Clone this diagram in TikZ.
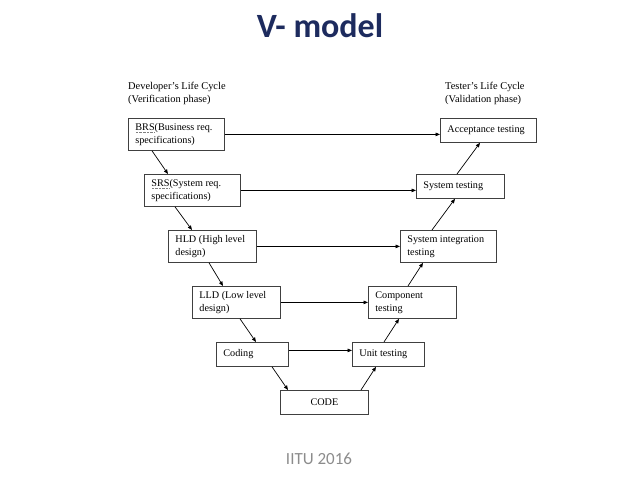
\documentclass[tikz,border=0pt]{standalone}
\usepackage{fontspec}
\setmainfont{Liberation Serif}
\newfontfamily\slidefont{Carlito}
\usetikzlibrary{arrows.meta,calc}
\definecolor{titleblue}{HTML}{1D2B5E}
\definecolor{footgray}{HTML}{8C8C8C}
\newsavebox{\spellbox}
\newcommand{\spellmark}[1]{\sbox{\spellbox}{#1}\rlap{\color{gray}\raisebox{-2pt}{\hbox to \wd\spellbox{\xleaders\hbox to 1.3pt{\hss\vrule width 0.6pt height 0.6pt depth 0pt\hss}\hfill}}}#1}
\tikzset{
  stage/.style={draw=black!75, line width=0.8pt, anchor=north west, inner xsep=7pt, inner ysep=0pt, align=flush left, font=\fontsize{10.2}{12.7}\selectfont},
  stageL/.style={stage, text width=82pt, minimum height=32pt},
  stageM/.style={stage, text width=74pt, minimum height=32pt},
  stageLS/.style={stage, text width=82pt, minimum height=24pt},
  stageMS/.style={stage, text width=74pt, minimum height=24pt},
  stageS/.style={stage, text width=58pt, minimum height=24pt},
  head/.style={anchor=west, inner sep=0pt, align=left, font=\fontsize{10.4}{12.7}\selectfont},
  flow/.style={-{Triangle[length=4.5pt,width=3.6pt]}, line width=0.7pt},
}
\begin{document}
\begin{tikzpicture}[x=1pt,y=-1pt]
    \useasboundingbox (0,0) rectangle (640,480);
    \node[font=\slidefont\bfseries\fontsize{34}{40}\selectfont, text=titleblue] (title) at (320,26) {V- model};
    \node[font=\slidefont\fontsize{17}{20}\selectfont, text=footgray] (foot) at (319,459) {IITU 2016};
    \node[head] (devhead) at (128,93.5) {Developer’s Life Cycle\\(Verification phase)};
    \node[head] (testhead) at (445,93.5) {Tester’s Life Cycle\\(Validation phase)};
    % verification side
    \node[stageL] (BRS) at (128,118) {\spellmark{BRS}(Business req.\\specifications)};
    \node[stageL] (SRS) at (144,174) {\spellmark{SRS}(System req.\\specifications)};
    \node[stageM] (HLD) at (168,230) {HLD (High level\\design)};
    \node[stageM] (LLD) at (192,286) {LLD (Low level\\design)};
    \node[stageS] (Coding) at (216,342) {Coding};
    \node[stageMS, align=center] (CODE) at (280,390) {CODE};
    % validation side
    \node[stageS] (Unit) at (352,342) {Unit testing};
    \node[stageM] (Comp) at (368,286) {Component\\testing};
    \node[stageL] (SysInt) at (400,230) {System integration\\testing};
    \node[stageMS] (SysTest) at (416,174) {System testing};
    \node[stageLS] (Acc) at (440,118) {Acceptance testing};
    % down the V
    \draw[flow] ($(BRS.south west)+(24,0)$) -- ($(SRS.north west)+(24,0)$);
    \draw[flow] ($(SRS.south west)+(31,0)$) -- ($(HLD.north west)+(24,0)$);
    \draw[flow] ($(HLD.south west)+(41,0)$) -- ($(LLD.north west)+(31,0)$);
    \draw[flow] ($(LLD.south west)+(48,0)$) -- ($(Coding.north west)+(40,0)$);
    \draw[flow] ($(Coding.south west)+(56,0)$) -- ($(CODE.north west)+(8,0)$);
    % up the V
    \draw[flow] ($(CODE.north west)+(81,0)$) -- ($(Unit.south west)+(24,0)$);
    \draw[flow] ($(Unit.north west)+(32,0)$) -- ($(Comp.south west)+(31,0)$);
    \draw[flow] ($(Comp.north west)+(40,0)$) -- ($(SysInt.south west)+(23,0)$);
    \draw[flow] ($(SysInt.north west)+(32,0)$) -- ($(SysTest.south west)+(39,0)$);
    \draw[flow] ($(SysTest.north west)+(41,0)$) -- ($(Acc.south west)+(40,0)$);
    % across
    \draw[flow] (BRS.east) -- (BRS.east -| Acc.west);
    \draw[flow] (SRS.east) -- (SRS.east -| SysTest.west);
    \draw[flow] (HLD.east) -- (SysInt.west);
    \draw[flow] (LLD.east) -- (Comp.west);
    \draw[flow] ([yshift=4pt]Coding.east) -- ([yshift=4pt]Coding.east -| Unit.west);
\end{tikzpicture}
\end{document}
